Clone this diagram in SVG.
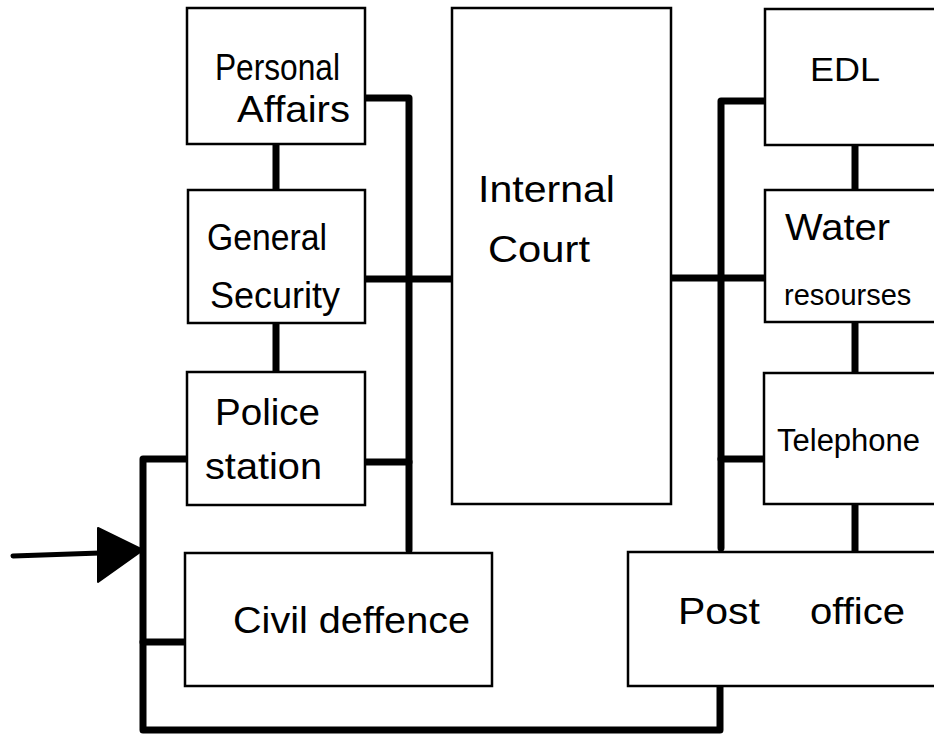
<svg xmlns="http://www.w3.org/2000/svg" width="934" height="739" viewBox="0 0 934 739">
<style>
.box{fill:#fff;stroke:#000;stroke-width:2.5}
.con{fill:none;stroke:#000;stroke-width:7;stroke-linecap:round;stroke-linejoin:round}
.lbl{font-family:"Liberation Sans",Arial,sans-serif;font-size:37px;fill:#000}
</style>
<rect width="934" height="739" fill="#fff"/>
<g id="connectors">
<path class="con" d="M365,98 L409,98 L409,550"/>
<path class="con" d="M276,144 L276,190"/>
<path class="con" d="M276,323 L276,372"/>
<path class="con" d="M365,279 L452,279"/>
<path class="con" d="M365,462 L409,462"/>
<path class="con" d="M187,459 L143,459 L143,730 L720,730 L720,686"/>
<path class="con" d="M185,642 L143,642"/>
<path class="con" d="M765,101 L721,101 L721,548"/>
<path class="con" d="M671,278 L765,278"/>
<path class="con" d="M721,459 L764,459"/>
<path class="con" d="M855,145 L855,190"/>
<path class="con" d="M855,322 L855,373"/>
<path class="con" d="M855,504 L855,552"/>
<path class="con" d="M13,556 L100,553" style="stroke-width:5"/>
<polygon points="98,528 143,550 98,582" fill="#000" stroke="#000" stroke-width="2" stroke-linejoin="round"/>
</g>
<g id="personal-affairs">
<rect class="box" x="187" y="8" width="178" height="136"/>
<text class="lbl" x="215" y="80" textLength="125" lengthAdjust="spacingAndGlyphs">Personal</text>
<text class="lbl" x="237" y="122" textLength="113" lengthAdjust="spacingAndGlyphs">Affairs</text>
</g>
<g id="general-security">
<rect class="box" x="188" y="190" width="177" height="133"/>
<text class="lbl" x="207" y="250" textLength="120" lengthAdjust="spacingAndGlyphs">General</text>
<text class="lbl" x="210" y="308" textLength="130" lengthAdjust="spacingAndGlyphs">Security</text>
</g>
<g id="police-station">
<rect class="box" x="187" y="372" width="178" height="133"/>
<text class="lbl" x="215" y="425" textLength="105" lengthAdjust="spacingAndGlyphs">Police</text>
<text class="lbl" x="205" y="479" textLength="117" lengthAdjust="spacingAndGlyphs">station</text>
</g>
<g id="civil-defence">
<rect class="box" x="185" y="553" width="307" height="133"/>
<text class="lbl" x="233" y="633" textLength="237" lengthAdjust="spacingAndGlyphs">Civil deffence</text>
</g>
<g id="internal-court">
<rect class="box" x="452" y="8" width="219" height="496"/>
<text class="lbl" x="478" y="202" textLength="137" lengthAdjust="spacingAndGlyphs">Internal</text>
<text class="lbl" x="488" y="262" textLength="102" lengthAdjust="spacingAndGlyphs">Court</text>
</g>
<g id="edl">
<rect class="box" x="765" y="9" width="200" height="136"/>
<text class="lbl" x="810" y="81" textLength="70" lengthAdjust="spacingAndGlyphs" style="font-size:34px">EDL</text>
</g>
<g id="water-resources">
<rect class="box" x="765" y="190" width="200" height="132"/>
<text class="lbl" x="785" y="240" textLength="105" lengthAdjust="spacingAndGlyphs">Water</text>
<text class="lbl" x="784" y="305" style="font-size:29px">resourses</text>
</g>
<g id="telephone">
<rect class="box" x="764" y="373" width="200" height="131"/>
<text class="lbl" x="777" y="451" style="font-size:31px">Telephone</text>
</g>
<g id="post-office">
<rect class="box" x="628" y="552" width="340" height="134"/>
<text class="lbl" x="678" y="624" textLength="82" lengthAdjust="spacingAndGlyphs">Post</text>
<text class="lbl" x="810" y="624" textLength="95" lengthAdjust="spacingAndGlyphs">office</text>
</g>
</svg>
